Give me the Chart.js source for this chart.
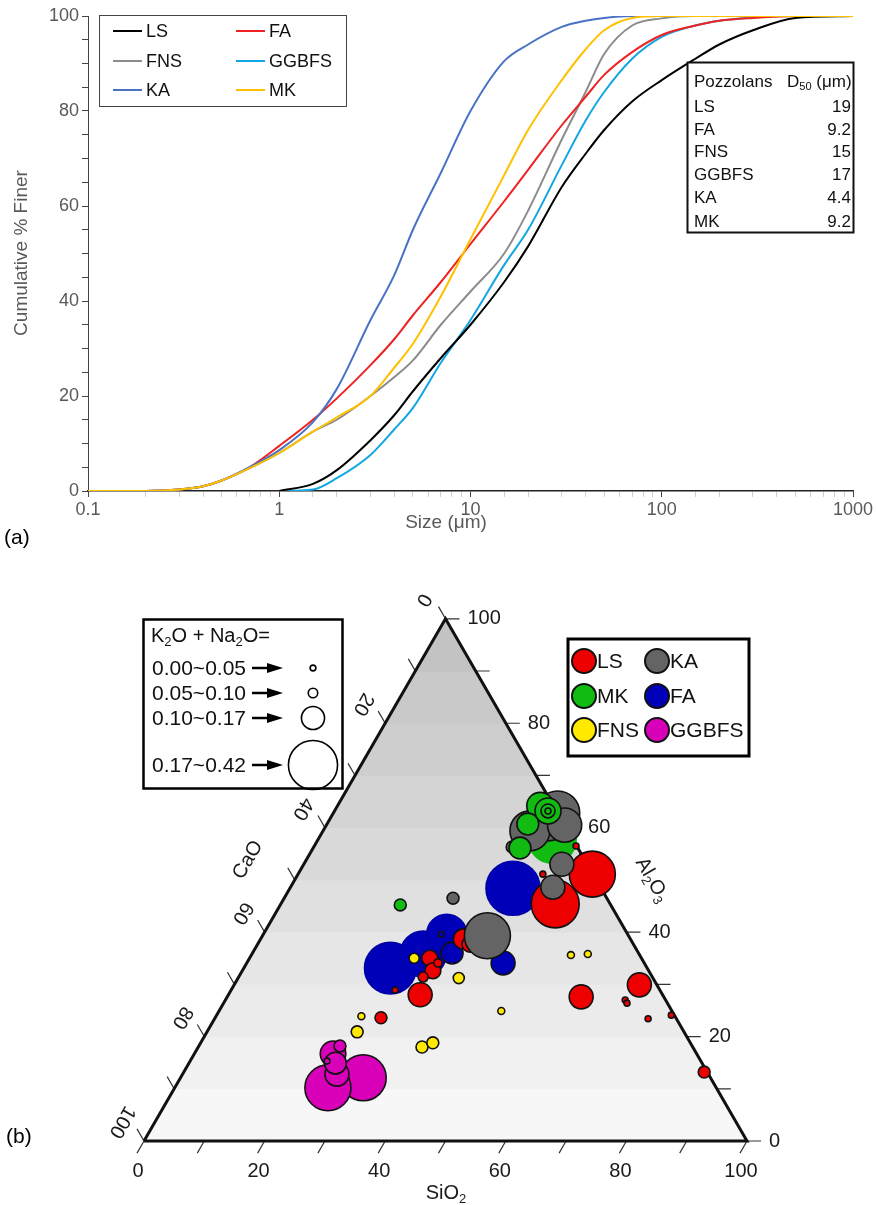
<!DOCTYPE html>
<html>
<head>
<meta charset="utf-8">
<script src="https://cdn.jsdelivr.net/npm/chart.js@4.4.1/dist/chart.umd.min.js"></script>
<style>
  html, body { margin: 0; padding: 0; background: #fff; }
  #wrap { position: relative; width: 876px; height: 1205px; }
  #c1 { position: absolute; left: 0; top: 0; }
  #c2 { position: absolute; left: 0; top: 555px; }
</style>
</head>
<body>
<div id="wrap">
  <canvas id="c1" width="876" height="555"></canvas>
  <canvas id="c2" width="876" height="650"></canvas>
</div>
<script>
// ─── (a) particle size data ────────────────────────────
const sizes = [0.1, 0.2, 0.3, 0.4, 0.5, 0.7, 1, 1.5, 2, 3, 4, 5, 7, 10, 15, 20, 30, 40, 50, 70, 100, 150, 200, 300, 500, 1000];
const seriesNames = ['LS', 'FA', 'FNS', 'GGBFS', 'KA', 'MK'];
const lsFiner    = [null, null, null, null, null, null, 0, 1.5, 4.4, 10.7, 16, 21, 28, 35, 44, 51.5, 64, 71, 76, 82, 86.5, 91, 94, 97, 99.6, 100];
const faFiner    = [0, 0, 0.3, 1, 2.2, 5, 9.5, 15, 19.5, 26.5, 32, 37, 44, 52, 61, 67.6, 77, 83, 87.6, 92.4, 96, 98, 99, 99.6, 100, 100];
const fnsFiner   = [0, 0, 0.3, 1, 2.2, 4.8, 8, 12.5, 15, 20, 24, 27.5, 35, 42, 50, 59, 74, 84, 92, 98, 99.5, 100, 100, 100, 100, 100];
const ggbfsFiner = [null, null, null, null, null, null, 0, 0.3, 2.7, 7.6, 13, 17.5, 27, 36, 47.6, 55, 68.6, 78, 84, 91, 95.6, 98, 99, 99.7, 100, 100];
const kaFiner    = [0, 0, 0.3, 1, 2.2, 5, 8.6, 14.5, 21.5, 36, 45.5, 55, 67, 80, 90.5, 94, 97.7, 99, 99.6, 100, 100, 100, 100, 100, 100, 100];
const mkFiner    = [0, 0, 0.3, 1, 2.2, 4.8, 8, 12.5, 15.5, 20, 26, 31, 41, 53, 66.5, 76, 86.5, 93, 97, 99.6, 100, 100, 100, 100, 100, 100];
const d50Values  = ['19', '9.2', '15', '17', '4.4', '9.2'];
const xTickLabels = [0.1, 1, 10, 100, 1000];

// ─── (b) ternary data: [SiO2, Al2O3, K2O+Na2O]  (CaO = rest) ──
const lsPts = [[48.8, 51.1, 0.355], [45.5, 45.4, 0.37], [40.6, 51.1, 0.032], [43.4, 56.5, 0.032],
               [33.6, 38.7, 0.145], [35.2, 37.7, 0.113], [29.9, 35.0, 0.113], [31.6, 32.6, 0.113],
               [30.6, 31.4, 0.065], [31.7, 34.1, 0.05], [31.8, 28.0, 0.177], [27.2, 28.9, 0.032],
               [27.5, 23.6, 0.08], [58.7, 27.6, 0.177], [67.2, 29.9, 0.177], [66.3, 27.0, 0.032],
               [66.9, 26.4, 0.032], [71.9, 23.4, 0.032], [75.4, 24.1, 0.032], [86.3, 13.2, 0.08]];
const kaPts = [[34.3, 59.4, 0.306], [36.2, 61.7, 0.34], [37.2, 62.8, 0.34], [39.5, 60.5, 0.26],
               [32.9, 56.3, 0.08], [42.8, 53.0, 0.177], [43.5, 48.6, 0.177], [28.0, 46.5, 0.08],
               [37.3, 39.3, 0.355]];
const mkBackPts = [[38.8, 57.8, 0.37]];
const mkPts = [[33.6, 64.2, 0.2], [35.4, 63.2, 0.194], [35.4, 63.2, 0.097], [35.4, 63.2, 0.032],
               [33.3, 60.7, 0.16], [34.3, 56.1, 0.16], [19.9, 45.2, 0.08]];
const faPts = [[37.0, 48.4, 0.42], [30.4, 39.6, 0.306], [28.4, 35.8, 0.355], [24.3, 33.1, 0.40],
               [33.1, 36.0, 0.16], [42.5, 34.1, 0.177], [29.5, 39.6, 0.032]];
const fnsPts = [[27.3, 35.0, 0.065], [53.0, 35.6, 0.04], [55.7, 35.8, 0.04], [36.6, 31.2, 0.073],
                [24.1, 23.9, 0.04], [24.9, 20.9, 0.08], [37.1, 18.0, 0.08], [38.5, 18.8, 0.08],
                [46.8, 24.9, 0.04]];
const ggbfsPts = [[30.3, 12.1, 0.355], [25.4, 10.2, 0.355], [25.6, 12.8, 0.177], [24.3, 14.9, 0.16],
                  [23.0, 16.7, 0.19], [23.4, 18.2, 0.08], [22.7, 15.3, 0.032]];
const frameVertices = [[0, 0], [100, 0], [0, 100], [0, 0]];
const ternTicks = [0, 20, 40, 60, 80, 100];
const alkRanges = ['0.00~0.05', '0.05~0.10', '0.10~0.17', '0.17~0.42'];
const alkSamples = [0.03, 0.06, 0.17, 0.38];
const materials = ['LS', 'KA', 'MK', 'FA', 'FNS', 'GGBFS'];

// ─── Shared config ─────────────────────────────────────
const FF = "'Liberation Sans', Arial, sans-serif";
Chart.defaults.font.family = FF;
const lineColors = ['#000000', '#ee2222', '#8c8c8c', '#12a6e4', '#4a72c4', '#ffc000'];
const lineOrder  = [3, 2, 4, 5, 1, 0];
const M = { LS: '#ee0000', KA: '#646464', MK: '#11bb11', FA: '#0000b8', FNS: '#ffea00', GGBFS: '#d800b8' };
const isDecade = v => Math.abs(Math.log10(v) - Math.round(Math.log10(v))) < 1e-6;

function richText(ctx, parts, x, y, size, align) {
    let w = 0;
    parts.forEach(([t, sub]) => { ctx.font = (sub ? size * 0.65 : size) + 'px ' + FF; w += ctx.measureText(t).width; });
    let cx = align === 'center' ? x - w / 2 : align === 'right' ? x - w : x;
    ctx.textAlign = 'left';
    parts.forEach(([t, sub]) => {
        ctx.font = (sub ? size * 0.65 : size) + 'px ' + FF;
        ctx.fillText(t, cx, sub ? y + size * 0.3 : y);
        cx += ctx.measureText(t).width;
    });
}

// ─── (a) PSD CHART ─────────────────────────────────────
const finer = [lsFiner, faFiner, fnsFiner, ggbfsFiner, kaFiner, mkFiner];

const psdDecor = {
    id: 'psdDecor',
    afterDatasetsDraw(chart) {
        const ctx = chart.ctx;
        ctx.save();
        // legend box
        ctx.fillStyle = '#fff';
        ctx.fillRect(99.5, 15.5, 247, 91);
        ctx.strokeStyle = '#444'; ctx.lineWidth = 1;
        ctx.strokeRect(99.5, 15.5, 247, 91);
        ctx.textBaseline = 'middle';
        seriesNames.forEach((n, i) => {
            const lx = [113, 236][i % 2], ly = [31, 61, 90][Math.floor(i / 2)];
            ctx.strokeStyle = lineColors[i]; ctx.lineWidth = 2;
            ctx.beginPath(); ctx.moveTo(lx, ly); ctx.lineTo(lx + 29, ly); ctx.stroke();
            ctx.fillStyle = '#111'; ctx.font = '18px ' + FF; ctx.textAlign = 'left';
            ctx.fillText(n, lx + 33, ly + 1);
        });
        // D50 table
        ctx.fillStyle = '#fff';
        ctx.fillRect(687.5, 62.5, 166, 170);
        ctx.fillStyle = '#111';
        ctx.font = '17px ' + FF; ctx.textAlign = 'left';
        ctx.fillText('Pozzolans', 694, 82);
        richText(ctx, [['D'], ['50', true], [' (μm)']], 787, 82, 17, 'left');
        seriesNames.forEach((n, i) => {
            const ry = [107, 130, 152, 175, 198, 222][i];
            ctx.font = '17px ' + FF;
            ctx.textAlign = 'left'; ctx.fillText(n, 694, ry);
            ctx.textAlign = 'right'; ctx.fillText(d50Values[i], 851, ry);
        });
        ctx.strokeStyle = '#111'; ctx.lineWidth = 2;
        ctx.strokeRect(687.5, 62.5, 166, 170);
        // axis titles
        ctx.fillStyle = '#595959'; ctx.font = '19px ' + FF; ctx.textAlign = 'center';
        ctx.fillText('Size (μm)', 446, 523);
        ctx.save();
        ctx.translate(22, 253); ctx.rotate(-Math.PI / 2);
        ctx.fillText('Cumulative % Finer', 0, 0);
        ctx.restore();
        ctx.fillStyle = '#000'; ctx.font = '21px ' + FF; ctx.textAlign = 'left';
        ctx.fillText('(a)', 4, 538);
        ctx.restore();
    }
};

new Chart(document.getElementById('c1').getContext('2d'), {
    type: 'line',
    data: {
        datasets: seriesNames.map((n, i) => ({
            label: n,
            data: sizes.map((s, j) => ({ x: s, y: finer[i][j] })).filter(p => p.y !== null),
            borderColor: lineColors[i],
            borderWidth: 2,
            pointRadius: 0,
            cubicInterpolationMode: 'monotone',
            fill: false,
            order: lineOrder[i]
        }))
    },
    options: {
        responsive: false,
        animation: false,
        devicePixelRatio: 1,
        events: [],
        layout: { autoPadding: false, padding: { left: 0, top: 16, right: 23, bottom: 0 } },
        plugins: { legend: { display: false }, tooltip: { enabled: false } },
        scales: {
            x: {
                type: 'logarithmic', min: 0.1, max: 1000,
                afterFit: s => { s.height = 64; },
                border: { display: true, color: '#222', width: 1.5 },
                grid: {
                    drawOnChartArea: false, tickLength: 6,
                    color: c => (c.tick && isDecade(c.tick.value)) ? '#444' : '#d0d0d0'
                },
                ticks: {
                    autoSkip: false, maxRotation: 0, padding: 2, color: '#595959', font: { size: 18 },
                    callback: v => xTickLabels.some(t => Math.abs(t - v) < 1e-9) ? String(v) : ''
                }
            },
            y: {
                min: 0, max: 100,
                afterFit: s => { s.width = 88; },
                border: { display: true, color: '#444', width: 1 },
                grid: { drawOnChartArea: false, tickLength: 6, color: '#444' },
                ticks: {
                    stepSize: 5, maxTicksLimit: 30, autoSkip: false, padding: 3,
                    color: '#595959', font: { size: 18 },
                    callback: v => v % 20 === 0 ? v : ''
                }
            }
        }
    },
    plugins: [psdDecor]
});

// ─── (b) TERNARY CHART ─────────────────────────────────
const SQ3 = Math.sqrt(3) / 2;
const ternXY = (si, al) => ({ x: si + al / 2, y: al * SQ3 });
const radiusFor = v => 1 + 62 * v;
const bubbles = pts => pts.slice().sort((p, q) => q[2] - p[2])
    .map(([si, al, k]) => ({ ...ternXY(si, al), r: radiusFor(k) }));

const U = 6.03, OX = 144, OY = 586;   // pixel origin of SiO2=0 corner, px per unit

const ternaryDecor = {
    id: 'ternaryDecor',
    beforeDatasetsDraw(chart) {
        const { ctx, scales: { x, y } } = chart;
        const P = (si, al) => { const p = ternXY(si, al); return [x.getPixelForValue(p.x), y.getPixelForValue(p.y)]; };
        const A = P(0, 0), B = P(100, 0), C = P(0, 100);
        ctx.save();
        ctx.beginPath(); ctx.moveTo(A[0], A[1]); ctx.lineTo(B[0], B[1]); ctx.lineTo(C[0], C[1]); ctx.closePath();
        ctx.clip();
        for (let i = 0; i < 10; i++) {
            const g = Math.round(247 - i * 5.8);
            ctx.fillStyle = `rgb(${g},${g},${g})`;
            const yb = y.getPixelForValue(i * 10 * SQ3), yt = y.getPixelForValue((i + 1) * 10 * SQ3);
            ctx.fillRect(A[0], yt, B[0] - A[0], yb - yt + 0.5);
        }
        ctx.restore();

        ctx.save();
        ctx.strokeStyle = '#333'; ctx.lineWidth = 1.2;
        const L = 14;
        for (let v = 0; v <= 100; v += 10) {
            const b = P(v, 0), r = P(100 - v, v), l = P(0, 100 - v);
            ctx.beginPath();
            ctx.moveTo(b[0], b[1]); ctx.lineTo(b[0] - 0.5 * L, b[1] + SQ3 * L);
            ctx.moveTo(r[0], r[1]); ctx.lineTo(r[0] + L, r[1]);
            ctx.moveTo(l[0], l[1]); ctx.lineTo(l[0] - 0.5 * L, l[1] - SQ3 * L);
            ctx.stroke();
        }
        ctx.fillStyle = '#1a1a1a'; ctx.font = '20px ' + FF; ctx.textBaseline = 'middle';
        ternTicks.forEach(v => {
            const b = P(v, 0), r = P(100 - v, v), l = P(0, 100 - v);
            ctx.textAlign = 'center'; ctx.fillText(String(v), b[0] - 6, b[1] + 30);
            ctx.textAlign = 'left'; ctx.fillText(String(v), r[0] + 22, r[1]);
            ctx.save();
            ctx.translate(l[0] - 22, l[1] - 19); ctx.rotate(2 * Math.PI / 3);
            ctx.textAlign = 'center'; ctx.fillText(String(v), 0, 0);
            ctx.restore();
        });
        // axis titles
        richText(ctx, [['SiO'], ['2', true]], 446, 638, 20, 'center');
        ctx.save(); ctx.translate(248, 305); ctx.rotate(-Math.PI / 3);
        richText(ctx, [['CaO']], 0, 0, 20, 'center'); ctx.restore();
        ctx.save(); ctx.translate(652, 325); ctx.rotate(Math.PI / 3);
        richText(ctx, [['Al'], ['2', true], ['O'], ['3', true]], 0, 0, 20, 'center'); ctx.restore();
        ctx.fillStyle = '#000'; ctx.font = '21px ' + FF; ctx.textAlign = 'left';
        ctx.fillText('(b)', 6, 582);
        ctx.restore();
    },
    afterDatasetsDraw(chart) {
        const ctx = chart.ctx;
        ctx.save();
        ctx.textBaseline = 'middle';
        // alkali size legend
        ctx.fillStyle = '#fff'; ctx.fillRect(143.5, 64.5, 199, 169);
        ctx.strokeStyle = '#000'; ctx.lineWidth = 2.5; ctx.strokeRect(143.5, 64.5, 199, 169);
        ctx.fillStyle = '#111';
        richText(ctx, [['K'], ['2', true], ['O + Na'], ['2', true], ['O=']], 151, 81, 20, 'left');
        alkRanges.forEach((t, i) => {
            const ry = [113, 138, 163, 210][i];
            ctx.fillStyle = '#111'; ctx.font = '21px ' + FF; ctx.textAlign = 'left';
            ctx.fillText(t, 152, ry + 1);
            ctx.strokeStyle = '#000'; ctx.lineWidth = 2.5;
            ctx.beginPath(); ctx.moveTo(252, ry); ctx.lineTo(270, ry); ctx.stroke();
            ctx.fillStyle = '#000';
            ctx.beginPath(); ctx.moveTo(267, ry - 5); ctx.lineTo(283, ry); ctx.lineTo(267, ry + 5); ctx.closePath(); ctx.fill();
            ctx.strokeStyle = '#000'; ctx.lineWidth = 1.6;
            ctx.beginPath(); ctx.arc(313, ry, radiusFor(alkSamples[i]), 0, 2 * Math.PI); ctx.stroke();
        });
        // material legend
        ctx.fillStyle = '#fff'; ctx.fillRect(568, 84, 181, 117);
        ctx.strokeStyle = '#000'; ctx.lineWidth = 3; ctx.strokeRect(568, 84, 181, 117);
        materials.forEach((m, i) => {
            const cx = [584, 657][i % 2], cy = [106, 141, 175][Math.floor(i / 2)];
            ctx.fillStyle = M[m]; ctx.strokeStyle = '#111'; ctx.lineWidth = 2;
            ctx.beginPath(); ctx.arc(cx, cy, 12, 0, 2 * Math.PI); ctx.fill(); ctx.stroke();
            ctx.fillStyle = '#111'; ctx.font = '21px ' + FF; ctx.textAlign = 'left';
            ctx.fillText(m, cx + 13, cy + 1);
        });
        ctx.restore();
    }
};

const bubbleSet = (label, pts, color, order, border) => ({
    type: 'bubble', label, data: bubbles(pts),
    backgroundColor: color,
    borderColor: border || '#111',
    borderWidth: 1.6,
    order
});

new Chart(document.getElementById('c2').getContext('2d'), {
    type: 'bubble',
    data: {
        datasets: [
            {
                type: 'line', label: 'frame',
                data: frameVertices.map(([si, al]) => ternXY(si, al)),
                borderColor: '#111', borderWidth: 3, pointRadius: 0, fill: false,
                borderJoinStyle: 'miter', tension: 0, order: 20
            },
            bubbleSet('MK', mkBackPts, M.MK, 9, M.MK),
            bubbleSet('FA', faPts, M.FA, 8, c => (c.raw && c.raw.r > 16) ? '#0000a8' : '#111'),
            bubbleSet('LS', lsPts, M.LS, 7),
            bubbleSet('KA', kaPts, M.KA, 6),
            bubbleSet('MK', mkPts, M.MK, 5),
            bubbleSet('FNS', fnsPts, M.FNS, 4),
            bubbleSet('GGBFS', ggbfsPts, M.GGBFS, 3)
        ]
    },
    options: {
        responsive: false,
        animation: false,
        devicePixelRatio: 1,
        events: [],
        layout: { autoPadding: false, padding: 0 },
        plugins: { legend: { display: false }, tooltip: { enabled: false } },
        scales: {
            x: { type: 'linear', display: false, min: -OX / U, max: (876 - OX) / U },
            y: { type: 'linear', display: false, min: -(650 - OY) / U, max: OY / U }
        }
    },
    plugins: [ternaryDecor]
});
</script>
</body>
</html>
